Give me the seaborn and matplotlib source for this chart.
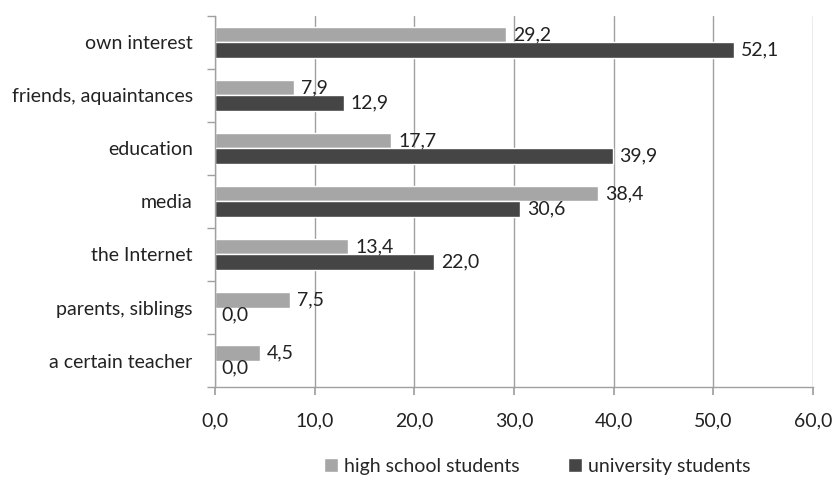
import matplotlib
matplotlib.use("Agg")
import matplotlib.pyplot as plt
import seaborn as sns
import pandas as pd
import numpy as np
from matplotlib.ticker import FixedLocator, FuncFormatter

categories = ["own interest", "friends, aquaintances", "education", "media",
              "the Internet", "parents, siblings", "a certain teacher"]
high_school = [29.2, 7.9, 17.7, 38.4, 13.4, 7.5, 4.5]
university = [52.1, 12.9, 39.9, 30.6, 22.0, 0.0, 0.0]
series_names = ["high school students", "university students"]
x_ticks = [0, 10, 20, 30, 40, 50, 60]

df = pd.DataFrame({
    "category": categories * 2,
    "value": high_school + university,
    "group": [series_names[0]] * len(categories) + [series_names[1]] * len(categories),
})

sns.set_theme(style="white")
plt.rcParams["font.family"] = ["Lato", "DejaVu Sans"]

FS = 14

fig = plt.figure(figsize=(8.33, 4.82), dpi=100)
ax = fig.add_axes([0.258, 0.197, 0.718, 0.770])

palette = {series_names[0]: "#a6a6a6", series_names[1]: "#454545"}
sns.barplot(data=df, y="category", x="value", hue="group", order=categories,
            hue_order=series_names, palette=palette, orient="h", width=0.57,
            saturation=1, ax=ax, legend=True)

ax.set_xlim(0, 60)
ax.set_ylim(len(categories) - 0.5, -0.5)
ax.xaxis.set_major_locator(FixedLocator(x_ticks))
ax.xaxis.set_major_formatter(FuncFormatter(lambda v, p: f"{v:.1f}".replace(".", ",")))
ax.grid(axis="x", color="#a0a0a0", linewidth=1.0)
ax.set_axisbelow(True)
ax.set_xlabel("")
ax.set_ylabel("")

for s in ["top", "right"]:
    ax.spines[s].set_visible(False)
for s in ["left", "bottom"]:
    ax.spines[s].set_color("#a0a0a0")
    ax.spines[s].set_linewidth(1.0)

ax.tick_params(axis="x", which="major", length=6, color="#a0a0a0", labelsize=FS,
               labelcolor="#222222", pad=12, direction="out", bottom=True)
ax.tick_params(axis="y", which="major", length=0, labelsize=FS,
               labelcolor="#222222", pad=16)
ax.yaxis.set_minor_locator(FixedLocator(np.arange(-0.5, len(categories) + 0.5, 1.0)))
ax.tick_params(axis="y", which="minor", length=6, color="#a0a0a0", direction="out", left=True)

for cont in ax.containers:
    ax.bar_label(cont, labels=[f"{w:.1f}".replace(".", ",") for w in cont.datavalues],
                 padding=5, fontsize=FS, color="#222222")

leg = ax.get_legend()
handles, labels = ax.get_legend_handles_labels()
leg.remove()
fig.legend(handles, labels, loc="center", bbox_to_anchor=(0.645, 0.033), ncol=2,
           frameon=False, fontsize=FS, handlelength=0.7, handleheight=0.7,
           handletextpad=0.3, columnspacing=2.5)

fig.savefig("out.png", dpi=100)
